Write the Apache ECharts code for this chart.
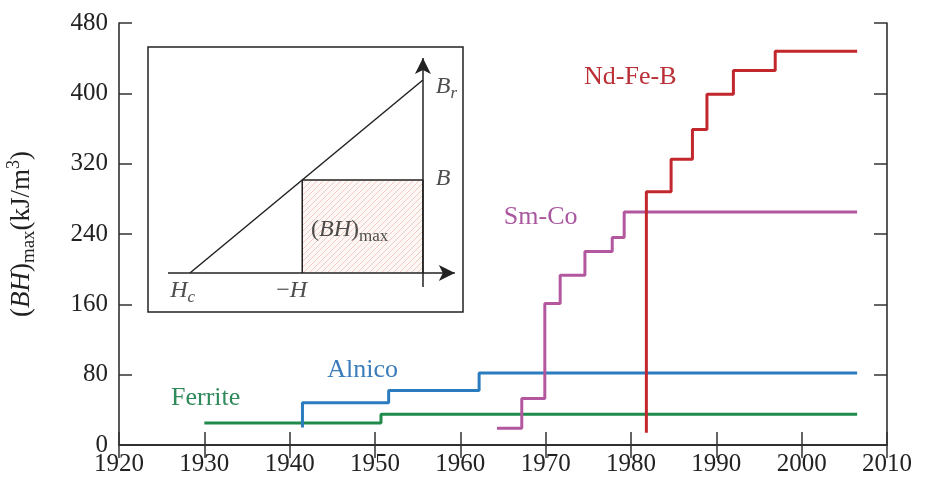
<!DOCTYPE html>
<html>
<head>
<meta charset="utf-8">
<script src="https://cdn.jsdelivr.net/npm/echarts@6/dist/echarts.min.js"></script>
<style>html,body{margin:0;padding:0;background:#fff;}#c{width:925px;height:480px;}</style>
</head>
<body>
<div id="c"></div>
<script>
// ---- data ----
const xTicks = [1920, 1930, 1940, 1950, 1960, 1970, 1980, 1990, 2000, 2010];
const yTicks = [0, 80, 160, 240, 320, 400, 480];

const ndfebYears  = [1981.8, 1981.8, 1984.7, 1987.2, 1988.9, 1992.0, 1996.9, 2006.5];
const ndfebValues = [14, 288, 325, 359, 399, 426, 448, 448];

const smcoYears  = [1964.3, 1967.2, 1969.9, 1971.7, 1974.6, 1977.8, 1979.2, 2006.5];
const smcoValues = [19, 53, 161, 193, 220, 236, 265, 265];

const alnicoYears  = [1941.5, 1941.5, 1951.6, 1962.2, 2006.5];
const alnicoValues = [20, 48, 62, 82, 82];

const ferriteYears  = [1930.0, 1950.7, 2006.5];
const ferriteValues = [25, 35, 35];

// inset schematic (normalised: Hc = -1, Br = 1)
const insetHc = -1, insetBr = 1, insetH = -0.518, insetB = 0.482;

// ---- build ----
const zip = (xs, ys) => xs.map((x, i) => [x, ys[i]]);
const serif = '"Liberation Serif", "DejaVu Serif", serif';

const hatch = document.createElement('canvas');
hatch.width = 6; hatch.height = 6;
(function () {
  const g = hatch.getContext('2d');
  g.fillStyle = '#fdf8f5'; g.fillRect(0, 0, 6, 6);
  g.strokeStyle = '#e8b8ac'; g.lineWidth = 0.7;
  g.beginPath();
  g.moveTo(0, 6); g.lineTo(6, 0);
  g.moveTo(-1, 1); g.lineTo(1, -1);
  g.moveTo(5, 7); g.lineTo(7, 5);
  g.stroke();
})();

function stepSeries(name, xs, ys, color, lbl, lblColor, lblCoord) {
  return {
    name, type: 'line', step: 'end', xAxisIndex: 0, yAxisIndex: 0,
    data: zip(xs, ys), showSymbol: false, symbol: 'none',
    lineStyle: { color, width: 3 }, z: 3,
    markPoint: {
      symbol: 'circle', symbolSize: 0, silent: true,
      data: [{ coord: lblCoord, value: lbl }],
      label: { show: true, position: 'right', distance: 0, formatter: lbl,
               color: lblColor, fontFamily: serif, fontSize: 26 }
    }
  };
}

const rich = {
  n: { fontFamily: serif, fontSize: 24, color: '#222' },
  i: { fontFamily: serif, fontSize: 24, fontStyle: 'italic', color: '#222' },
  s: { fontFamily: serif, fontSize: 17, color: '#222', padding: [14, 0, 0, 0] },
  si: { fontFamily: serif, fontSize: 17, fontStyle: 'italic', color: '#222', padding: [14, 0, 0, 0] }
};

const option = {
  animation: false,
  backgroundColor: '#fff',
  grid: [
    { left: 119, right: 38, top: 23, bottom: 35, show: false, containLabel: false, outerBoundsMode: 'none' },
    { left: 148, top: 47, width: 315, height: 265, show: true, outerBoundsMode: 'none',
      borderColor: '#222', borderWidth: 1.5, backgroundColor: '#fff', z: 1 }
  ],
  xAxis: [
    { gridIndex: 0, type: 'value', min: 1920, max: 2010, interval: 10, position: 'bottom',
      axisLine: { lineStyle: { color: '#222', width: 1.5 } },
      axisTick: { inside: true, length: 13, lineStyle: { color: '#333', width: 1.5 } },
      axisLabel: { color: '#222', fontFamily: serif, fontSize: 25, margin: 7,
                   formatter: v => xTicks.includes(v) ? String(v) : '' },
      splitLine: { show: false } },
    { gridIndex: 0, type: 'value', min: 1920, max: 2010, interval: 10, position: 'top',
      axisLine: { lineStyle: { color: '#222', width: 1.5 } },
      axisTick: { inside: true, length: 13, lineStyle: { color: '#333', width: 1.5 } },
      axisLabel: { show: false }, splitLine: { show: false } },
    { gridIndex: 1, type: 'value', min: -1.18, max: 0.172, show: false, splitLine: { show: false } }
  ],
  yAxis: [
    { gridIndex: 0, type: 'value', min: 0, max: 480, interval: 80, position: 'left',
      axisLine: { lineStyle: { color: '#222', width: 1.5 } },
      axisTick: { inside: true, length: 13, lineStyle: { color: '#333', width: 1.5 } },
      axisLabel: { color: '#222', fontFamily: serif, fontSize: 25, margin: 11,
                   formatter: v => yTicks.includes(v) ? String(v) : '' },
      splitLine: { show: false },
      name: '{n|(}{i|BH}{n|)}{s|max}{n|(kJ/m}{p|3}{n|)}',
      nameLocation: 'middle', nameGap: 80, nameRotate: 90,
      nameTextStyle: {
        rich: {
          n: { fontFamily: serif, fontSize: 27, color: '#222' },
          i: { fontFamily: serif, fontSize: 27, fontStyle: 'italic', color: '#222' },
          s: { fontFamily: serif, fontSize: 19, color: '#222', padding: [15, 0, 0, 0] },
          p: { fontFamily: serif, fontSize: 18, color: '#222', padding: [0, 0, 15, 0] }
        }
      } },
    { gridIndex: 0, type: 'value', min: 0, max: 480, interval: 80, position: 'right',
      axisLine: { lineStyle: { color: '#222', width: 1.5 } },
      axisTick: { inside: true, length: 13, lineStyle: { color: '#333', width: 1.5 } },
      axisLabel: { show: false }, splitLine: { show: false } },
    { gridIndex: 1, type: 'value', min: -0.202, max: 1.171, show: false, splitLine: { show: false } }
  ],
  series: [
    stepSeries('Ferrite', ferriteYears, ferriteValues, '#1f8a4c', 'Ferrite', '#2e8a5a', [1926.1, 53.6]),
    stepSeries('Alnico', alnicoYears, alnicoValues, '#2b7bbf', 'Alnico', '#3b7cba', [1944.4, 85.5]),
    stepSeries('Sm-Co', smcoYears, smcoValues, '#b3579f', 'Sm-Co', '#a9589f', [1965.1, 259]),
    stepSeries('Nd-Fe-B', ndfebYears, ndfebValues, '#c1272d', 'Nd-Fe-B', '#bb2f37', [1974.5, 418]),
    // inset: hatched (BH)max rectangle
    { type: 'line', xAxisIndex: 2, yAxisIndex: 2, symbol: 'none', z: 4,
      data: [[insetH, 0], [insetH, insetB], [0, insetB], [0, 0]],
      lineStyle: { color: '#222', width: 1.5 },
      areaStyle: { color: { image: hatch, repeat: 'repeat' }, opacity: 1 } },
    // inset: demagnetisation line + axes arrows
    { type: 'line', xAxisIndex: 2, yAxisIndex: 2, symbol: 'none', z: 5,
      data: [[insetHc, 0], [0, insetBr]],
      lineStyle: { color: '#222', width: 1.5 },
      markLine: {
        silent: true, symbol: ['none', 'arrow'], symbolSize: [12, 16],
        label: { show: false },
        lineStyle: { color: '#222', width: 1.5, type: 'solid' },
        data: [
          [{ coord: [-1.094, 0] }, { coord: [0.137, 0] }],
          [{ coord: [0, -0.073] }, { coord: [0, 1.114] }]
        ]
      } },
    // inset labels
    { type: 'scatter', xAxisIndex: 2, yAxisIndex: 2, symbolSize: 0, z: 6, silent: true,
      label: { show: true, position: 'right', distance: 0, rich },
      data: [
        { value: [0.055, 0.965], label: { formatter: '{i|B}{si|r}' } },
        { value: [0.055, insetB + 0.005], label: { formatter: '{i|B}' } },
        { value: [-1.085, -0.09], label: { formatter: '{i|H}{si|c}' } },
        { value: [-0.63, -0.09], label: { formatter: '{n|\u2212}{i|H}' } },
        { value: [-0.48, 0.225], label: { formatter: '{n|(}{i|BH}{n|)}{s|max}' } }
      ] }
  ]
};

const chart = echarts.init(document.getElementById('c'), null, { renderer: 'canvas' });
chart.setOption(option);
</script>
</body>
</html>
